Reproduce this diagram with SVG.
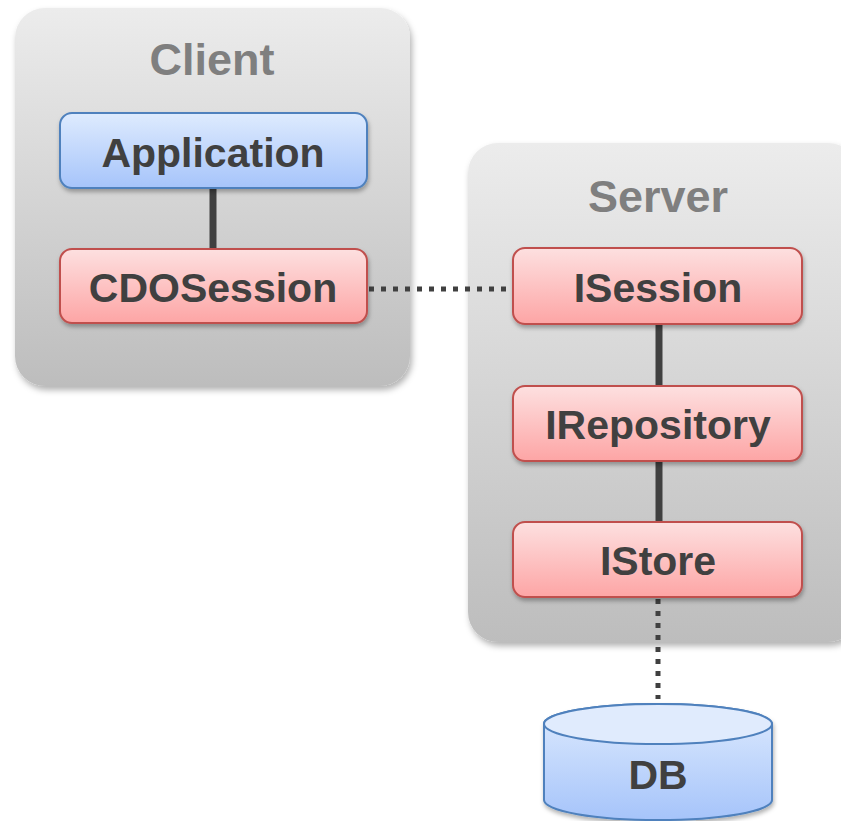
<svg xmlns="http://www.w3.org/2000/svg" width="841" height="821" viewBox="0 0 841 821">
<defs>
<linearGradient id="gCont" x1="0" y1="0" x2="0" y2="1"><stop offset="0" stop-color="#ececec"/><stop offset="1" stop-color="#bdbdbd"/></linearGradient>
<linearGradient id="gRed" x1="0" y1="0" x2="0" y2="1"><stop offset="0" stop-color="#fde0e0"/><stop offset="1" stop-color="#fda5a5"/></linearGradient>
<linearGradient id="gBlue" x1="0" y1="0" x2="0" y2="1"><stop offset="0" stop-color="#deebfe"/><stop offset="1" stop-color="#a6c4fa"/></linearGradient>
<filter id="sh" x="-10%" y="-10%" width="125%" height="130%"><feDropShadow dx="2" dy="4" stdDeviation="3" flood-color="#000" flood-opacity="0.3"/></filter>
<filter id="sh2" x="-10%" y="-10%" width="125%" height="140%"><feDropShadow dx="1" dy="3" stdDeviation="2" flood-color="#000" flood-opacity="0.3"/></filter>
</defs>
<style>
.cont{fill:url(#gCont);filter:url(#sh)}
.red{fill:url(#gRed);stroke:#c0504d;stroke-width:2;filter:url(#sh2)}
.blue{fill:url(#gBlue);stroke:#4f81bd;stroke-width:2;filter:url(#sh2)}
.hdr{font-family:"Liberation Sans",Arial,sans-serif;font-weight:bold;font-size:45px;fill:#7f7f7f;text-anchor:middle}
.lbl{font-family:"Liberation Sans",Arial,sans-serif;font-weight:bold;font-size:41px;fill:#404040;text-anchor:middle}
.solid{stroke:#404040;stroke-width:7;fill:none}
.dot{stroke:#404040;stroke-width:5;stroke-dasharray:5 7;fill:none}
</style>
<g id="client">
<rect class="cont" x="15" y="8" width="395" height="378" rx="30"/>
<text class="hdr" x="212" y="75">Client</text>
</g>
<g id="server">
<rect class="cont" x="468" y="143" width="390" height="499" rx="30"/>
<text class="hdr" x="658" y="212">Server</text>
</g>
<g id="connectors">
<line class="solid" x1="213" y1="188" x2="213" y2="249"/>
<line class="solid" x1="659" y1="324" x2="659" y2="386"/>
<line class="solid" x1="659" y1="461" x2="659" y2="522"/>
<line class="dot" x1="369" y1="289" x2="513" y2="289"/>
<line class="dot" x1="658" y1="599" x2="658" y2="699"/>
</g>
<g id="application">
<rect class="blue" x="60" y="113" width="307" height="75" rx="12"/>
<text class="lbl" x="213" y="167">Application</text>
</g>
<g id="cdosession">
<rect class="red" x="60" y="249" width="307" height="74" rx="12"/>
<text class="lbl" x="213" y="302">CDOSession</text>
</g>
<g id="isession">
<rect class="red" x="513" y="248" width="289" height="76" rx="12"/>
<text class="lbl" x="658" y="302">ISession</text>
</g>
<g id="irepository">
<rect class="red" x="513" y="386" width="289" height="75" rx="12"/>
<text class="lbl" x="658" y="439">IRepository</text>
</g>
<g id="istore">
<rect class="red" x="513" y="522" width="289" height="75" rx="12"/>
<text class="lbl" x="658" y="575">IStore</text>
</g>
<g id="db">
<path d="M544 724 L544 800 A114 20 0 0 0 772 800 L772 724 A114 20 0 0 0 544 724 Z" fill="url(#gBlue)" stroke="#4f81bd" stroke-width="2" filter="url(#sh2)"/>
<ellipse cx="658" cy="724" rx="114" ry="20" fill="#e0ebfd" stroke="#4f81bd" stroke-width="2"/>
<text class="lbl" x="658" y="789">DB</text>
</g>
</svg>
